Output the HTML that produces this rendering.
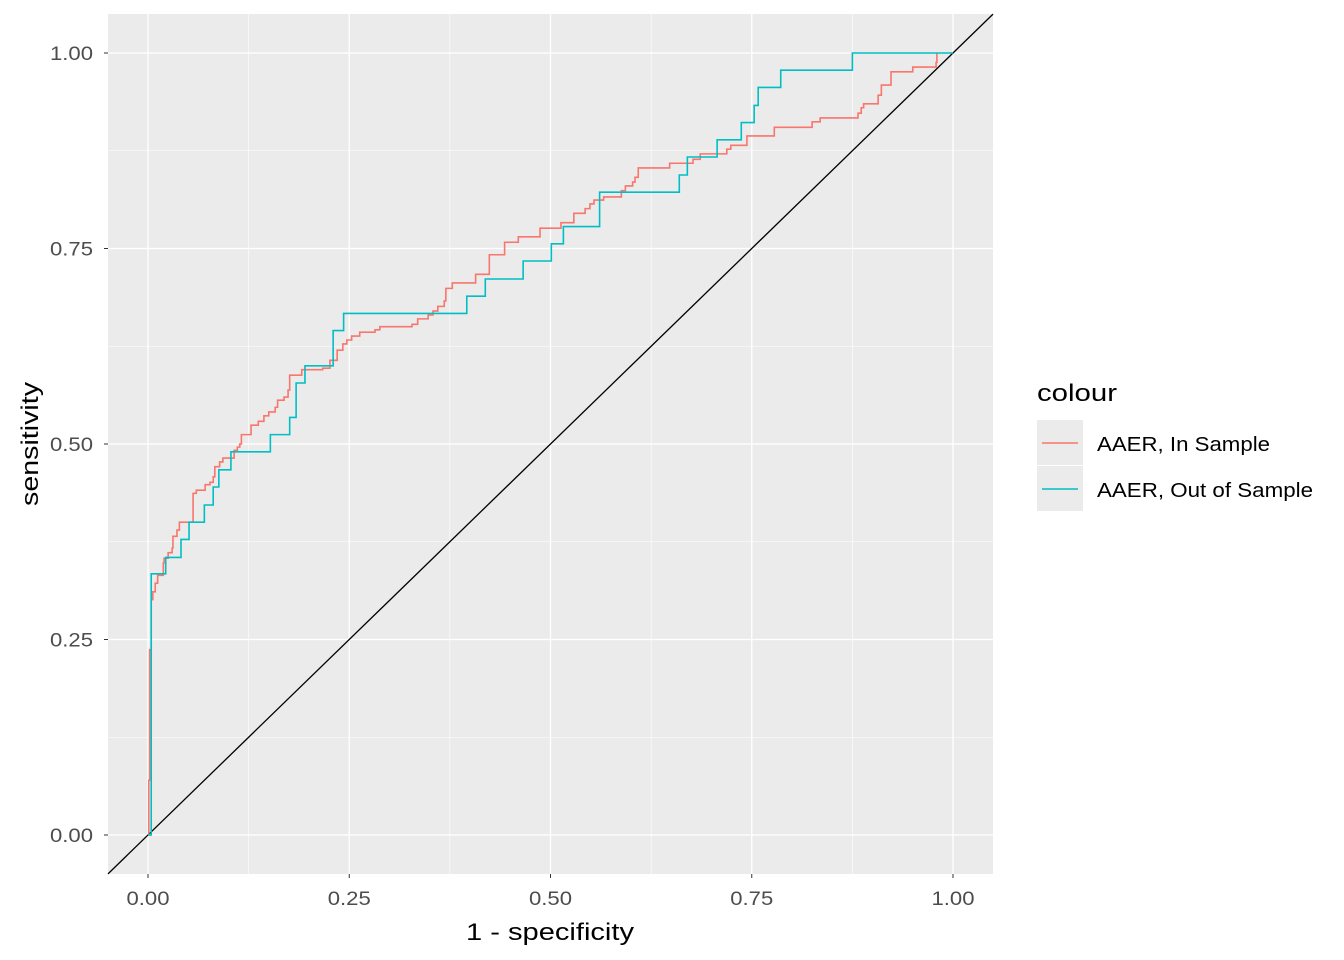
<!DOCTYPE html>
<html><head><meta charset="utf-8"><style>
body{margin:0;background:#fff;}
svg{display:block;font-family:"Liberation Sans",sans-serif;}
</style></head><body>
<svg id="chart" width="1344" height="960" viewBox="0 0 1344 960">
<rect x="0" y="0" width="1344" height="960" fill="#fff"/>
<g id="panel"></g>
<g id="axes"></g>
<text x="550" y="940" font-size="24" text-anchor="middle" textLength="168" lengthAdjust="spacingAndGlyphs" fill="#000">1 - specificity</text>
<text transform="translate(38,444) rotate(-90)" font-size="24" text-anchor="middle" textLength="124" lengthAdjust="spacingAndGlyphs" fill="#000">sensitivity</text>
<g>
<text x="1037" y="401" font-size="24" textLength="80" lengthAdjust="spacingAndGlyphs" fill="#000">colour</text>
<rect x="1037" y="420" width="46" height="45" fill="#EBEBEB"/>
<line x1="1042" y1="443" x2="1078" y2="443" stroke="#F8766D" stroke-width="1.6"/>
<text x="1097" y="451" font-size="20" textLength="173" lengthAdjust="spacingAndGlyphs" fill="#000">AAER, In Sample</text>
<rect x="1037" y="466" width="46" height="45" fill="#EBEBEB"/>
<line x1="1042" y1="489" x2="1078" y2="489" stroke="#00BFC4" stroke-width="1.6"/>
<text x="1097" y="497" font-size="20" textLength="216" lengthAdjust="spacingAndGlyphs" fill="#000">AAER, Out of Sample</text>
</g>
</svg>
<script>
const ticks=[0,0.25,0.5,0.75,1];
const tickLabels=["0.00","0.25","0.50","0.75","1.00"];
const inFpr=[0,0.001,0.002,0.004,0.006,0.009,0.012,0.019,0.020,0.025,0.030,0.031,0.036,0.039,0.056,0.060,0.071,0.077,0.081,0.083,0.089,0.093,0.107,0.111,0.114,0.116,0.128,0.137,0.144,0.150,0.158,0.161,0.169,0.174,0.176,0.191,0.217,0.226,0.235,0.242,0.247,0.253,0.263,0.282,0.288,0.328,0.335,0.348,0.354,0.360,0.368,0.370,0.378,0.407,0.424,0.443,0.460,0.487,0.513,0.529,0.543,0.549,0.554,0.566,0.588,0.593,0.602,0.605,0.609,0.648,0.677,0.686,0.719,0.724,0.744,0.778,0.825,0.835,0.882,0.886,0.889,0.907,0.911,0.923,0.950,0.979,0.980];
const inTpr=[0,0.070,0.237,0.301,0.311,0.322,0.332,0.348,0.354,0.361,0.367,0.382,0.390,0.400,0.437,0.441,0.448,0.451,0.458,0.471,0.477,0.482,0.492,0.496,0.500,0.512,0.524,0.529,0.536,0.541,0.547,0.556,0.560,0.569,0.588,0.595,0.597,0.607,0.620,0.628,0.633,0.638,0.643,0.646,0.650,0.653,0.660,0.665,0.670,0.676,0.683,0.699,0.706,0.717,0.742,0.758,0.765,0.776,0.783,0.795,0.801,0.807,0.812,0.816,0.824,0.830,0.835,0.841,0.853,0.859,0.864,0.871,0.877,0.882,0.894,0.905,0.912,0.917,0.923,0.930,0.935,0.946,0.959,0.976,0.982,0.988,1.000];
const outFpr=[0,0.004,0.022,0.041,0.051,0.070,0.081,0.088,0.103,0.152,0.176,0.184,0.195,0.230,0.243,0.396,0.419,0.466,0.501,0.516,0.561,0.660,0.670,0.707,0.737,0.753,0.758,0.786,0.875,1.000];
const outTpr=[0,0.334,0.355,0.378,0.400,0.422,0.445,0.467,0.490,0.512,0.534,0.578,0.600,0.645,0.667,0.689,0.711,0.734,0.756,0.778,0.822,0.844,0.867,0.889,0.911,0.933,0.956,0.978,1.000,1.000];

const NS="http://www.w3.org/2000/svg";
const L=108,R=993,T=14,B=874;
const xs=v=>148+v*805, ys=v=>835-v*782;
const panel=document.getElementById('panel'), axes=document.getElementById('axes');
function mk(tag,attrs,parent){const e=document.createElementNS(NS,tag);for(const k in attrs)e.setAttribute(k,attrs[k]);parent.appendChild(e);return e;}
const bg=mk('rect',{x:L,y:T,width:R-L,height:B-T,fill:'#EBEBEB'},panel);


for(let i=0;i<ticks.length-1;i++){
  const m=(ticks[i]+ticks[i+1])/2;
  const gx=mk('line',{x1:xs(m),x2:xs(m),y1:T,y2:B,stroke:'#fff','stroke-width':0.6},panel);
  
  
  const gy=mk('line',{x1:L,x2:R,y1:ys(m),y2:ys(m),stroke:'#fff','stroke-width':0.6},panel);
  
  
}
ticks.forEach((t,i)=>{
  const gx=mk('line',{x1:xs(t),x2:xs(t),y1:T,y2:B,stroke:'#fff','stroke-width':1.3},panel);
  
  
  const gy=mk('line',{x1:L,x2:R,y1:ys(t),y2:ys(t),stroke:'#fff','stroke-width':1.3},panel);
  
  
  const tx=mk('line',{x1:xs(t),x2:xs(t),y1:B,y2:B+4,stroke:'#333','stroke-width':1},axes);
  
  
  const lx=mk('text',{x:xs(t),y:B+31,'font-size':19,'text-anchor':'middle',textLength:43,lengthAdjust:'spacingAndGlyphs',fill:'#4D4D4D'},axes);
  lx.textContent=tickLabels[i];
  
  
  const ty=mk('line',{x1:L-4,x2:L,y1:ys(t),y2:ys(t),stroke:'#333','stroke-width':1},axes);
  
  
  const ly=mk('text',{x:L-15,y:ys(t)+7,'font-size':19,'text-anchor':'end',textLength:43,lengthAdjust:'spacingAndGlyphs',fill:'#4D4D4D'},axes);
  ly.textContent=tickLabels[i];
  
  
});
const d0=(L-148)/805, d1=(R-148)/805;
const diag=mk('line',{x1:xs(d0),y1:ys(d0),x2:xs(d1),y2:ys(d1),stroke:'#000','stroke-width':1.3},panel);


function stepPath(fx,ty){let d='M'+xs(fx[0])+','+ys(ty[0]);for(let i=1;i<fx.length;i++){d+=' H'+xs(fx[i])+' V'+ys(ty[i]);}return d;}
const pin=mk('path',{d:stepPath(inFpr,inTpr),fill:'none',stroke:'#F8766D','stroke-width':1.6},panel);


const pout=mk('path',{d:stepPath(outFpr,outTpr),fill:'none',stroke:'#00BFC4','stroke-width':1.6},panel);


</script>
</body></html>
